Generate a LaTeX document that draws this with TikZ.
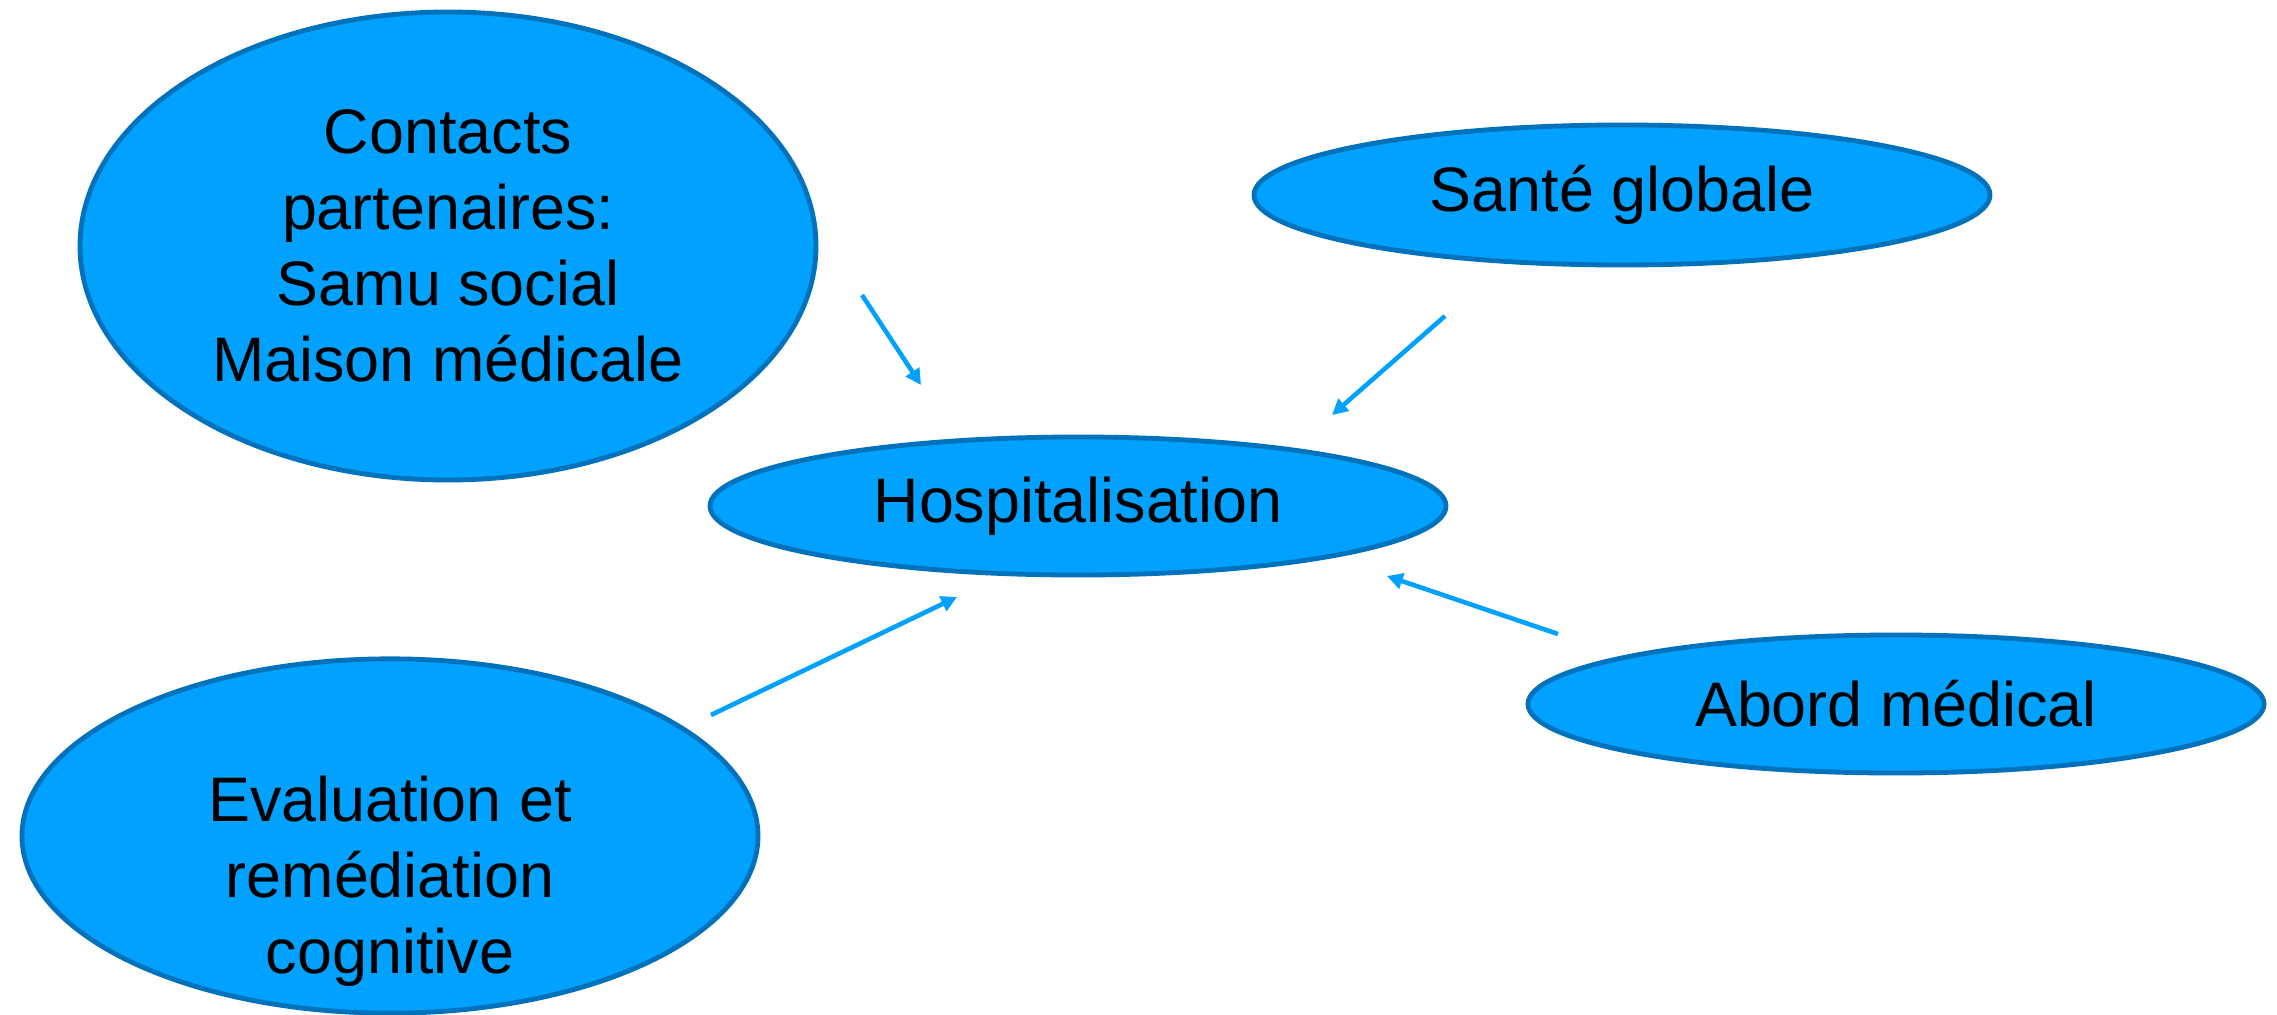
\documentclass[tikz,border=0pt]{standalone}
\usepackage{fontspec}
\setmainfont{Liberation Sans}
\usetikzlibrary{arrows.meta,shapes.geometric}

\definecolor{bubblefill}{RGB}{0,161,255}
\definecolor{bubbleline}{RGB}{0,114,188}

\begin{document}
\begin{tikzpicture}[x=0.35pt,y=-0.35pt,
  bubble/.style={ellipse, draw=bubbleline, line width=1.7pt, fill=bubblefill,
    inner sep=0pt, minimum width=257.6pt, align=center,
    font=\fontsize{22}{26.6}\selectfont},
  bubbletext/.style={align=center, inner sep=0pt, font=\fontsize{22}{26.6}\selectfont},
  link/.style={draw=bubblefill, line width=1.6pt, -{Triangle[length=5.5pt,width=5.5pt]}}]
%set diagram size to the reference, 2277 x 1015
\useasboundingbox (0,0) rectangle (2277,1015);

%Shape: Ellipse [id:contacts]
\node [bubble, minimum height=163.8pt] (contacts) at (448,246)
  {Contacts\\partenaires:\\Samu social\\Maison médicale};
%Shape: Ellipse [id:hosp]
\node [bubble, minimum height=48.3pt] (hosp) at (1078,506) {Hospitalisation};
%Shape: Ellipse [id:sante]
\node [bubble, minimum height=49pt] (sante) at (1622,195) {Santé globale};
%Shape: Ellipse [id:abord]
\node [bubble, minimum height=48.3pt] (abord) at (1896,704) {Abord médical};
%Shape: Ellipse [id:eval]
\node [bubble, minimum height=124pt] (eval) at (390,836) {};
% Text Node
\node [bubbletext] (evaltext) at (390,881) {Evaluation et\\remédiation\\cognitive};

%Straight Lines, arrow ends
\coordinate (contactsout) at (862,295);
\coordinate (contactsin) at (921,385);
\coordinate (santeout) at (1445,316);
\coordinate (santein) at (1332,415);
\coordinate (evalout) at (711,715);
\coordinate (evalin) at (957,597);
\coordinate (abordout) at (1558,634);
\coordinate (abordin) at (1387,576);

\draw [link] (contactsout) -- (contactsin);
\draw [link] (santeout) -- (santein);
\draw [link] (evalout) -- (evalin);
\draw [link] (abordout) -- (abordin);
\end{tikzpicture}
\end{document}
